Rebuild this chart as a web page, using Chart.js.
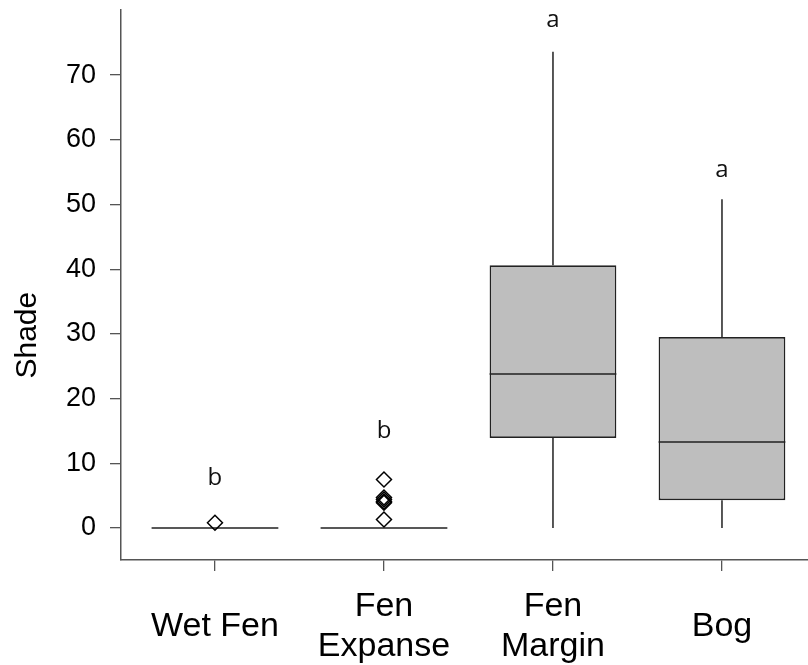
<!DOCTYPE html>
<html><head><meta charset="utf-8">
<script src="https://cdn.jsdelivr.net/npm/chart.js@4.4.0/dist/chart.umd.min.js"></script>
<style>html,body{margin:0;padding:0;background:#fff}#wrap{width:808px;height:665px;position:relative}</style>
</head><body><div id="wrap"><canvas id="c"></canvas></div>
<script>
// ---- data ----
const categories = [["Wet Fen"], ["Fen", "Expanse"], ["Fen", "Margin"], ["Bog"]];
const whiskerLow  = [0, 0, 0, 0];
const q1          = [0, 0, 13.9, 4.3];
const median      = [0, 0, 23.8, 13.3];
const q3          = [0, 0, 40.6, 29.5];
const whiskerHigh = [0, 0, 73.6, 50.8];
const outlierCategory = [1, 2, 2, 2, 2, 2, 2];
const outlierValues   = [0.8, 7.5, 4.7, 4.4, 4.1, 3.9, 1.3];
const letters   = ["b", "b", "a", "a"];
const letterY   = [7.7, 14.9, 78.5, 55.3];
const yTickValues = [0, 10, 20, 30, 40, 50, 60, 70];
const yTitle = "Shade";

// ---- styling constants ----
const BOX_WIDTH = 0.75;
const LINE = '#222222';
const FILL = '#bebebe';
const AXIS = '#555555';
const SANS = '"Liberation Sans", Arial, sans-serif';

// build datasets from the arrays
const boxData = [];
categories.forEach((c, i) => {
  if (q3[i] > q1[i]) boxData.push({x: i + 1, y: [q1[i], q3[i]]});
});
const medianData = [];
categories.forEach((c, i) => {
  medianData.push({x: i + 1 - BOX_WIDTH / 2, y: median[i]});
  medianData.push({x: i + 1 + BOX_WIDTH / 2, y: median[i]});
  medianData.push({x: i + 1 + BOX_WIDTH / 2, y: null});
});
const whiskerData = [];
categories.forEach((c, i) => {
  if (whiskerHigh[i] > q3[i]) {
    whiskerData.push({x: i + 1, y: q3[i]}, {x: i + 1, y: whiskerHigh[i]}, {x: i + 1, y: null});
  }
  if (whiskerLow[i] < q1[i]) {
    whiskerData.push({x: i + 1, y: q1[i]}, {x: i + 1, y: whiskerLow[i]}, {x: i + 1, y: null});
  }
});
const outlierData = outlierValues.map((v, k) => ({x: outlierCategory[k], y: v}));

const letterPlugin = {
  id: 'letters',
  afterDatasetsDraw(chart) {
    const ctx = chart.ctx, xs = chart.scales.x, ys = chart.scales.y;
    ctx.save();
    ctx.fillStyle = '#111';
    ctx.font = '24px "Open Sans", "Noto Sans", sans-serif';
    ctx.textAlign = 'center';
    ctx.textBaseline = 'middle';
    letters.forEach((t, i) => {
      ctx.fillText(t, xs.getPixelForValue(i + 1), ys.getPixelForValue(letterY[i]));
    });
    // y-axis title, R style (centred a little below the plot centre)
    ctx.fillStyle = '#000';
    ctx.font = '30px ' + SANS;
    ctx.translate(28, ys.getPixelForValue(29.8));
    ctx.rotate(-Math.PI / 2);
    ctx.fillText(yTitle, 0, 0);
    ctx.restore();
  }
};

new Chart(document.getElementById('c'), {
  type: 'bar',
  data: {
    datasets: [
      {type: 'bar', data: boxData, backgroundColor: FILL, borderColor: LINE, borderWidth: 1.7,
       borderSkipped: false, barPercentage: BOX_WIDTH, categoryPercentage: 1, order: 4},
      {type: 'line', data: whiskerData, borderColor: LINE, borderWidth: 1.5, pointRadius: 0,
       spanGaps: false, fill: false, order: 3},
      {type: 'line', data: medianData, borderColor: LINE, borderWidth: 1.6, pointRadius: 0,
       spanGaps: false, fill: false, order: 2},
      {type: 'scatter', data: outlierData, pointStyle: 'rectRot', pointRadius: 7.5,
       borderColor: '#000', borderWidth: 1.5, backgroundColor: 'rgba(0,0,0,0)', order: 1}
    ]
  },
  options: {
    responsive: true,
    maintainAspectRatio: false,
    devicePixelRatio: 1,
    animation: false,
    layout: {autoPadding: false, padding: {top: 10, right: 0, left: 0, bottom: 0}},
    plugins: {legend: {display: false}, tooltip: {enabled: false}},
    scales: {
      x: {
        type: 'linear',
        min: 0.444, max: 4.509,
        offset: false,
        afterBuildTicks: s => { s.ticks = categories.map((c, i) => ({value: i + 1})); },
        afterFit: s => { s.height = 105; s.paddingLeft = 0; s.paddingRight = 0; },
        ticks: {
          callback: (v) => categories[Math.round(v) - 1],
          color: '#000',
          font: {family: SANS, size: 34, lineHeight: 1.18},
          padding: 36,
          maxRotation: 0, autoSkip: false,
          crossAlign: 'center'
        },
        grid: {drawOnChartArea: false, drawTicks: true, offset: false, tickLength: 11, color: AXIS, lineWidth: 1.3},
        border: {display: true, color: AXIS, width: 1.5}
      },
      y: {
        min: -4.95, max: 80.06,
        afterBuildTicks: s => { s.ticks = yTickValues.map(v => ({value: v})); },
        afterFit: s => { s.width = 121; s.paddingTop = 0; s.paddingBottom = 0; },
        ticks: {color: '#000', font: {family: SANS, size: 27}, padding: 14},
        grid: {drawOnChartArea: false, drawTicks: true, tickLength: 11, color: AXIS, lineWidth: 1.3},
        border: {display: true, color: AXIS, width: 1.5}
      }
    }
  },
  plugins: [letterPlugin]
});
</script>
</body></html>
